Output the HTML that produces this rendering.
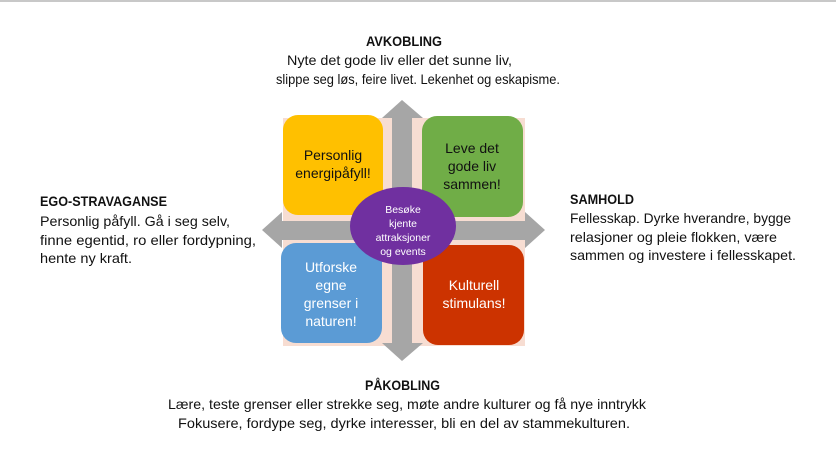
<!DOCTYPE html>
<html><head><meta charset="utf-8"><style>
html,body{margin:0;padding:0;background:#fff;width:836px;height:472px;overflow:hidden}
svg text{font-family:"Liberation Sans",sans-serif;font-size:14px;fill:#111}
</style></head><body>
<svg width="836" height="472" viewBox="0 0 836 472" xmlns="http://www.w3.org/2000/svg">
<rect x="0" y="0" width="836" height="2" fill="#c8c8c8"/>
<rect x="283" y="118" width="242" height="228" fill="#f7ddd2"/>
<polygon fill="#a6a6a6" points="402,100 423,118 412,118 412,343 423,343 402,361 382,343 392,343 392,118 382,118"/>
<polygon fill="#a6a6a6" points="262,230 282,212 282,221 525,221 525,212 545,230 525,248 525,240 282,240 282,248"/>
<rect x="283" y="115" width="100" height="100" rx="15" fill="#ffc000"/>
<rect x="422" y="116" width="101" height="101" rx="15" fill="#70ad47"/>
<rect x="281" y="243" width="101" height="100" rx="15" fill="#5b9bd5"/>
<rect x="423" y="245" width="101" height="100" rx="15" fill="#cc3300"/>
<g text-anchor="middle">
<text x="333" y="160">Personlig</text>
<text x="333" y="178">energipåfyll!</text>
<text x="472" y="153">Leve det</text>
<text x="472" y="171">gode liv</text>
<text x="472" y="189">sammen!</text>
<text x="331" y="272" style="fill:#fff">Utforske</text>
<text x="331" y="290" style="fill:#fff">egne</text>
<text x="331" y="308" style="fill:#fff">grenser i</text>
<text x="331" y="326" style="fill:#fff">naturen!</text>
<text x="474" y="290" style="fill:#fff">Kulturell</text>
<text x="474" y="308" style="fill:#fff">stimulans!</text>
</g>
<ellipse cx="403" cy="226" rx="53" ry="39" fill="#7030a0"/>
<g text-anchor="middle">
<text x="403" y="213" style="fill:#fff;font-size:10.5px">Besøke</text>
<text x="403" y="227" style="fill:#fff;font-size:10.5px">kjente</text>
<text x="403" y="241" style="fill:#fff;font-size:10.5px">attraksjoner</text>
<text x="403" y="255" style="fill:#fff;font-size:10.5px">og events</text>
</g>
<text x="366" y="46" textLength="76" lengthAdjust="spacingAndGlyphs" style="font-weight:bold">AVKOBLING</text>
<text x="287" y="65" textLength="225" lengthAdjust="spacingAndGlyphs">Nyte det gode liv eller det sunne liv,</text>
<text x="276" y="84" textLength="284" lengthAdjust="spacingAndGlyphs">slippe seg løs, feire livet. Lekenhet og eskapisme.</text>
<text x="40" y="206" textLength="127" lengthAdjust="spacingAndGlyphs" style="font-weight:bold">EGO-STRAVAGANSE</text>
<text x="40" y="226" textLength="190" lengthAdjust="spacingAndGlyphs">Personlig påfyll. Gå i seg selv,</text>
<text x="40" y="245" textLength="216" lengthAdjust="spacingAndGlyphs">finne egentid, ro eller fordypning,</text>
<text x="40" y="263" textLength="92" lengthAdjust="spacingAndGlyphs">hente ny kraft.</text>
<text x="570" y="204" textLength="64" lengthAdjust="spacingAndGlyphs" style="font-weight:bold">SAMHOLD</text>
<text x="570" y="223" textLength="221" lengthAdjust="spacingAndGlyphs">Fellesskap. Dyrke hverandre, bygge</text>
<text x="570" y="242" textLength="207" lengthAdjust="spacingAndGlyphs">relasjoner og pleie flokken, være</text>
<text x="570" y="260" textLength="226" lengthAdjust="spacingAndGlyphs">sammen og investere i fellesskapet.</text>
<text x="365" y="390" textLength="75" lengthAdjust="spacingAndGlyphs" style="font-weight:bold">PÅKOBLING</text>
<text x="168" y="409" textLength="478" lengthAdjust="spacingAndGlyphs">Lære, teste grenser eller strekke seg, møte andre kulturer og få nye inntrykk</text>
<text x="178" y="428" textLength="452" lengthAdjust="spacingAndGlyphs">Fokusere, fordype seg, dyrke interesser, bli en del av stammekulturen.</text>
</svg>
</body></html>
